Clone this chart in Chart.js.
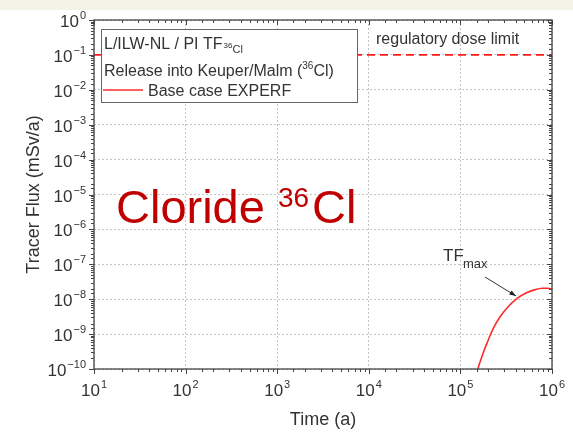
<!DOCTYPE html>
<html>
<head>
<meta charset="utf-8">
<script src="https://cdn.jsdelivr.net/npm/chart.js@4"></script>
<style>
  html, body { margin: 0; padding: 0; background: #fff; }
  #chart { display: block; }
</style>
</head>
<body>
<canvas id="chart" width="573" height="434"></canvas>
<script>
// Base case EXPERF (time in years, flux in mSv/a)
const timeValues = [1.4e5, 1.55e5, 1.75e5, 1.95e5, 2.3e5, 2.7e5, 3.3e5, 4.2e5, 5.2e5, 6.4e5, 7.8e5, 9e5, 1e6];
const fluxValues = [3e-11, 1e-10, 2.6e-10, 5.5e-10, 1.5e-9, 3.1e-9, 6e-9, 1.07e-8, 1.5e-8, 1.85e-8, 2.05e-8, 2.05e-8, 1.95e-8];

// regulatory dose limit
const limitTime = [10, 1e6];
const limitFlux = [0.1, 0.1];

// axis decades
const xTickValues = [1e1, 1e2, 1e3, 1e4, 1e5, 1e6];
const xTickExp = ['1', '2', '3', '4', '5', '6'];
const yTickValues = [1e0, 1e-1, 1e-2, 1e-3, 1e-4, 1e-5, 1e-6, 1e-7, 1e-8, 1e-9, 1e-10];
const yTickExp = ['0', '\u22121', '\u22122', '\u22123', '\u22124', '\u22125', '\u22126', '\u22127', '\u22128', '\u22129', '\u221210'];

const FONT = '"Liberation Sans", Arial, sans-serif';
const TEXT = '#333333';

function isDecade(v) {
    const l = Math.log10(v);
    return Math.abs(l - Math.round(l)) < 1e-6;
}

// "10" mit Exponent
function drawPow(ctx, x, y, exp, align) {
    ctx.font = '17px ' + FONT;
    const wBase = ctx.measureText('10').width;
    ctx.font = '11px ' + FONT;
    const wExp = ctx.measureText(exp).width;
    const total = wBase + wExp + 1;
    let sx = align === 'right' ? x - total : x - total / 2;
    ctx.textAlign = 'left';
    ctx.textBaseline = 'alphabetic';
    ctx.font = '17px ' + FONT;
    ctx.fillText('10', sx, y);
    ctx.font = '11px ' + FONT;
    ctx.fillText(exp, sx + wBase + 1, y - 8);
}

const decorPlugin = {
    id: 'decor',
    beforeDraw(chart) {
        const ctx = chart.ctx;
        ctx.save();
        ctx.fillStyle = '#ffffff';
        ctx.fillRect(0, 0, chart.width, chart.height);
        ctx.fillStyle = '#f5f2e8';
        ctx.fillRect(0, 0, chart.width, 10);
        ctx.restore();
    },
    afterDraw(chart) {
        const ctx = chart.ctx;
        const a = chart.chartArea;
        const xs = chart.scales.x;
        const ys = chart.scales.y;
        ctx.save();

        // Rahmen
        ctx.strokeStyle = '#444';
        ctx.lineWidth = 1.3;
        ctx.strokeRect(a.left, a.top, a.right - a.left, a.bottom - a.top);

        // Ticks
        ctx.lineWidth = 1;
        ctx.beginPath();
        xs.ticks.forEach(t => {
            const px = Math.round(xs.getPixelForValue(t.value)) + 0.5;
            const len = isDecade(t.value) ? 5 : 3;
            ctx.moveTo(px, a.bottom); ctx.lineTo(px, a.bottom + len);
            ctx.moveTo(px, a.top); ctx.lineTo(px, a.top + len);
        });
        ys.ticks.forEach(t => {
            const py = Math.round(ys.getPixelForValue(t.value)) + 0.5;
            const len = isDecade(t.value) ? 5 : 3;
            ctx.moveTo(a.left, py); ctx.lineTo(a.left - len, py);
            ctx.moveTo(a.right, py); ctx.lineTo(a.right - len, py);
        });
        ctx.stroke();

        // Achsenbeschriftung
        ctx.fillStyle = TEXT;
        xTickValues.forEach((v, i) => {
            drawPow(ctx, xs.getPixelForValue(v), a.bottom + 27, xTickExp[i], 'center');
        });
        yTickValues.forEach((v, i) => {
            drawPow(ctx, a.left - 8, ys.getPixelForValue(v) + 7, yTickExp[i], 'right');
        });

        ctx.font = '18px ' + FONT;
        ctx.textAlign = 'center';
        ctx.textBaseline = 'alphabetic';
        ctx.fillText('Time (a)', (a.left + a.right) / 2, 425);

        ctx.save();
        ctx.translate(39, (a.top + a.bottom) / 2);
        ctx.rotate(-Math.PI / 2);
        ctx.fillText('Tracer Flux (mSv/a)', 0, 0);
        ctx.restore();

        // Legende
        ctx.fillStyle = '#fff';
        ctx.fillRect(101, 29, 256, 73);
        ctx.strokeStyle = '#666';
        ctx.lineWidth = 1;
        ctx.strokeRect(101.5, 29.5, 256, 73);

        ctx.fillStyle = TEXT;
        ctx.textAlign = 'left';
        ctx.font = '16px ' + FONT;
        const l1 = 'L/ILW-NL / PI TF';
        ctx.fillText(l1, 104, 49);
        let w = ctx.measureText(l1).width;
        ctx.font = '8px ' + FONT;
        ctx.fillText('36', 104 + w + 1, 48);
        const w36 = ctx.measureText('36').width;
        ctx.font = '11px ' + FONT;
        ctx.fillText('Cl', 104 + w + 1 + w36, 53);

        ctx.font = '16px ' + FONT;
        const l2 = 'Release into Keuper/Malm (';
        ctx.fillText(l2, 104, 76);
        w = ctx.measureText(l2).width;
        ctx.font = '10px ' + FONT;
        ctx.fillText('36', 104 + w, 69);
        const w2 = ctx.measureText('36').width;
        ctx.font = '16px ' + FONT;
        ctx.fillText('Cl)', 104 + w + w2, 76);

        ctx.strokeStyle = '#ff2a2a';
        ctx.lineWidth = 1.5;
        ctx.beginPath();
        ctx.moveTo(103, 90); ctx.lineTo(143, 90);
        ctx.stroke();
        ctx.fillText('Base case EXPERF', 148, 96);

        ctx.fillText('regulatory dose limit', 376, 44);

        // TFmax Hinweis
        ctx.font = '17px ' + FONT;
        ctx.fillText('TF', 443, 261);
        ctx.font = '13px ' + FONT;
        ctx.fillText('max', 463, 268);

        const x1 = 485, y1 = 277, x2 = 516, y2 = 296;
        ctx.strokeStyle = '#333';
        ctx.fillStyle = '#222';
        ctx.lineWidth = 1;
        ctx.beginPath();
        ctx.moveTo(x1, y1); ctx.lineTo(x2, y2);
        ctx.stroke();
        const ang = Math.atan2(y2 - y1, x2 - x1);
        ctx.beginPath();
        ctx.moveTo(x2, y2);
        ctx.lineTo(x2 - 7 * Math.cos(ang - 0.35), y2 - 7 * Math.sin(ang - 0.35));
        ctx.lineTo(x2 - 7 * Math.cos(ang + 0.35), y2 - 7 * Math.sin(ang + 0.35));
        ctx.closePath();
        ctx.fill();

        // Titel im Plot
        ctx.fillStyle = '#c00000';
        ctx.font = '47px ' + FONT;
        const big = 'Cloride ';
        ctx.fillText(big, 116, 223);
        const wb = ctx.measureText(big).width;
        ctx.font = '28px ' + FONT;
        ctx.fillText('36', 116 + wb, 207);
        const wsup = ctx.measureText('36').width;
        ctx.font = '47px ' + FONT;
        ctx.fillText('Cl', 116 + wb + wsup + 3, 223);

        ctx.restore();
    }
};

new Chart(document.getElementById('chart'), {
    type: 'line',
    data: {
        datasets: [
            {
                label: 'regulatory dose limit',
                data: limitTime.map((t, i) => ({ x: t, y: limitFlux[i] })),
                borderColor: '#ff1a1a',
                borderWidth: 1.6,
                borderDash: [8, 5],
                pointRadius: 0
            },
            {
                label: 'Base case EXPERF',
                data: timeValues.map((t, i) => ({ x: t, y: fluxValues[i] })),
                borderColor: '#ff2a2a',
                borderWidth: 1.6,
                pointRadius: 0,
                tension: 0.4
            }
        ]
    },
    options: {
        responsive: false,
        animation: false,
        devicePixelRatio: 1,
        layout: { padding: { left: 94, top: 20, right: 21, bottom: 65 } },
        plugins: { legend: { display: false }, tooltip: { enabled: false } },
        scales: {
            x: {
                type: 'logarithmic',
                min: 10,
                max: 1e6,
                ticks: { display: false },
                grid: {
                    drawTicks: false,
                    color: c => (c.tick && isDecade(c.tick.value)) ? '#c4c4c4' : 'rgba(0,0,0,0)'
                },
                border: { display: false, dash: [2, 2] }
            },
            y: {
                type: 'logarithmic',
                min: 1e-10,
                max: 1,
                ticks: { display: false },
                grid: {
                    drawTicks: false,
                    color: c => (c.tick && isDecade(c.tick.value)) ? '#c4c4c4' : 'rgba(0,0,0,0)'
                },
                border: { display: false, dash: [2, 2] }
            }
        }
    },
    plugins: [decorPlugin]
});
</script>
</body>
</html>
